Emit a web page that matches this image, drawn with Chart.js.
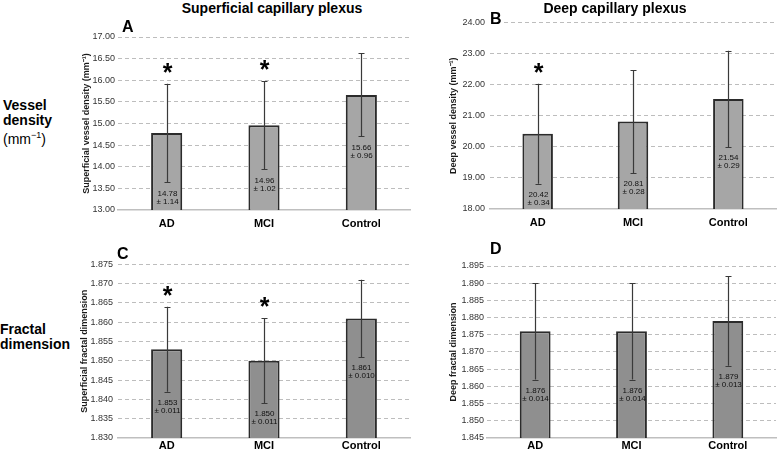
<!DOCTYPE html>
<html>
<head>
<meta charset="utf-8">
<script src="https://cdn.jsdelivr.net/npm/chart.js@4.4.1/dist/chart.umd.min.js"></script>
<style>
  body { margin: 0; background: #fff; }
  #wrap { position: relative; width: 778px; height: 456px; overflow: hidden;
          font-family: "Liberation Sans", Arial, sans-serif; color: #000; }
  canvas { position: absolute; }
  .t { position: absolute; white-space: nowrap; line-height: 1; }
  .head { font-weight: bold; font-size: 14px; transform: translateX(-50%); }
  .row { font-size: 14px; line-height: 15px; }
  .letter { font-weight: bold; font-size: 16px; background: #fff; padding: 0 1px; }
</style>
</head>
<body>
<div id="wrap">
  <canvas id="chartA" width="340" height="205" style="left:78px;top:27px"></canvas>
  <canvas id="chartB" width="333" height="222" style="left:445px;top:12px"></canvas>
  <canvas id="chartC" width="342" height="202" style="left:76px;top:254px"></canvas>
  <canvas id="chartD" width="333" height="200" style="left:445px;top:256px"></canvas>

  <div class="t head" style="left:272px;top:1px">Superficial capillary plexus</div>
  <div class="t head" style="left:615px;top:1px">Deep capillary plexus</div>

  <div class="t row" style="left:3px;top:98px"><b>Vessel<br>density</b><br>(mm<sup style="font-size:9px">−1</sup>)</div>
  <div class="t row" style="left:0px;top:322px"><b>Fractal<br>dimension</b></div>

  <div class="t letter" style="left:121px;top:19px">A</div>
  <div class="t letter" style="left:489px;top:11px">B</div>
  <div class="t letter" style="left:116px;top:246px">C</div>
  <div class="t letter" style="left:489px;top:241px">D</div>
</div>

<script>
const groups = ['AD', 'MCI', 'Control'];

// A: superficial vessel density
const supVD = [14.78, 14.96, 15.66];
const supVDsd = [1.14, 1.02, 0.96];
const supVDerr = [1.14, 1.02, 0.96];
const supVDstar = [true, true, false];

// B: deep vessel density (error bars drawn wider than the printed SD)
const deepVD = [20.42, 20.81, 21.54];
const deepVDsd = [0.34, 0.28, 0.29];
const deepVDerr = [1.61, 1.66, 1.55];
const deepVDstar = [true, false, false];

// C: superficial fractal dimension
const supFD = [1.853, 1.850, 1.861];
const supFDsd = [0.011, 0.011, 0.010];
const supFDerr = [0.011, 0.011, 0.010];
const supFDstar = [true, true, false];

// D: deep fractal dimension
const deepFD = [1.876, 1.876, 1.879];
const deepFDsd = [0.014, 0.014, 0.013];
const deepFDerr = [0.014, 0.014, 0.013];
const deepFDstar = [false, false, false];

const FONT = '"Liberation Sans", Arial, sans-serif';

const barExtras = {
  id: 'barExtras',
  afterDatasetsDraw(chart, args, opts) {
    const { ctx, scales: { y } } = chart;
    const vals = chart.data.datasets[0].data;
    const meta = chart.getDatasetMeta(0);
    ctx.save();
    meta.data.forEach((bar, i) => {
      const x = Math.round(bar.x) + 0.5;
      const hi = y.getPixelForValue(vals[i] + opts.err[i]);
      const lo = y.getPixelForValue(vals[i] - opts.err[i]);
      // error bar
      ctx.strokeStyle = '#3a3a3a';
      ctx.lineWidth = 1.2;
      ctx.beginPath();
      ctx.moveTo(x, hi); ctx.lineTo(x, lo);
      ctx.moveTo(x - 3, Math.round(hi) + 0.5); ctx.lineTo(x + 3, Math.round(hi) + 0.5);
      ctx.moveTo(x - 3, Math.round(lo) + 0.5); ctx.lineTo(x + 3, Math.round(lo) + 0.5);
      ctx.stroke();
      // mean +- sd text
      ctx.fillStyle = '#111';
      ctx.font = '8px ' + FONT;
      ctx.textAlign = 'center';
      ctx.textBaseline = 'middle';
      ctx.fillText(vals[i].toFixed(opts.digits), x, lo + 11);
      ctx.fillText('± ' + opts.sd[i].toFixed(opts.digits), x, lo + 19);
      // significance star
      if (opts.stars[i]) {
        ctx.fillStyle = '#000';
        ctx.font = 'bold 25px ' + FONT;
        ctx.textBaseline = 'alphabetic';
        ctx.fillText('*', x, hi - 17 + 14);
      }
    });
    ctx.restore();
  }
};

function makePanel(id, cfg) {
  const yMin = cfg.min;
  return new Chart(document.getElementById(id), {
    type: 'bar',
    data: {
      labels: groups,
      datasets: [{
        data: cfg.values,
        backgroundColor: cfg.color,
        borderColor: '#2b2b2b',
        borderWidth: 2,
        borderSkipped: 'bottom',
        barPercentage: 0.32,
        categoryPercentage: 1
      }]
    },
    options: {
      responsive: false,
      animation: false,
      layout: { padding: { top: 10, right: cfg.padRight, left: 0, bottom: 0 } },
      plugins: {
        legend: { display: false },
        tooltip: { enabled: false },
        barExtras: { err: cfg.err, sd: cfg.sd, stars: cfg.stars, digits: cfg.digits }
      },
      scales: {
        x: {
          grid: { display: false, drawTicks: false },
          border: { display: true, color: '#bfbfbf', width: 1.5 },
          ticks: { color: '#000', padding: cfg.xPad, font: { family: FONT, size: 11, weight: 'bold' } },
          afterFit(scale) { scale.height = cfg.xHeight; }
        },
        y: {
          min: cfg.min,
          max: cfg.max,
          border: { display: false, dash: [4, 3] },
          grid: {
            drawTicks: false,
            color: ctx => (ctx.tick && ctx.tick.value === yMin) ? 'rgba(0,0,0,0)' : '#bdbdbd',
            lineWidth: 1
          },
          ticks: {
            stepSize: cfg.step,
            padding: cfg.tickPad,
            color: '#333',
            font: { family: FONT, size: 9 },
            callback: v => Number(v).toFixed(cfg.tickDigits)
          },
          title: {
            display: true,
            text: cfg.title,
            color: '#1a1a1a',
            padding: { top: 3, bottom: 0 },
            font: { family: FONT, size: 9, weight: 'bold' }
          },
          afterFit(scale) { scale.width = cfg.yWidth; }
        }
      }
    },
    plugins: [barExtras]
  });
}

Chart.defaults.font.family = FONT;

makePanel('chartA', {
  values: supVD, sd: supVDsd, err: supVDerr, stars: supVDstar,
  min: 13, max: 17, step: 0.5, digits: 2, tickDigits: 2,
  title: 'Superficial vessel density (mm⁻¹)', color: '#a6a6a6',
  yWidth: 40, xHeight: 22, xPad: 7, tickPad: 3, padRight: 8
});
makePanel('chartB', {
  values: deepVD, sd: deepVDsd, err: deepVDerr, stars: deepVDstar,
  min: 18, max: 24, step: 1, digits: 2, tickDigits: 2,
  title: 'Deep vessel density (mm⁻¹)', color: '#a6a6a6',
  yWidth: 45, xHeight: 25, xPad: 7, tickPad: 5, padRight: 2
});
makePanel('chartC', {
  values: supFD, sd: supFDsd, err: supFDerr, stars: supFDstar,
  min: 1.830, max: 1.875, step: 0.005, digits: 3, tickDigits: 3,
  title: 'Superficial fractal dimension', color: '#8f8f8f',
  yWidth: 42, xHeight: 18, xPad: 1, tickPad: 5, padRight: 8
});
makePanel('chartD', {
  values: deepFD, sd: deepFDsd, err: deepFDerr, stars: deepFDstar,
  min: 1.845, max: 1.895, step: 0.005, digits: 3, tickDigits: 3,
  title: 'Deep fractal dimension', color: '#8f8f8f',
  yWidth: 42, xHeight: 18, xPad: 1, tickPad: 3, padRight: 2
});
</script>
</body>
</html>
